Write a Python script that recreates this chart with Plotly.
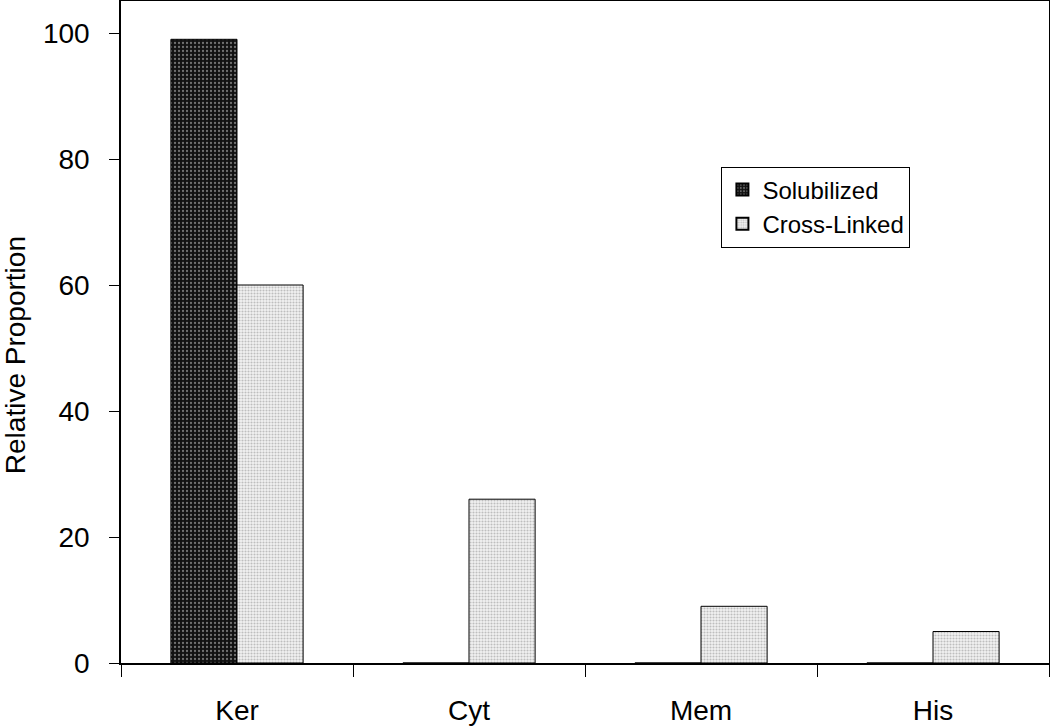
import plotly.graph_objects as go

categories = ["Ker", "Cyt", "Mem", "His"]
solubilized = [99, 0, 0, 0]
cross_linked = [60, 26, 9, 5]
y_ticks = [0, 20, 40, 60, 80, 100]

FONT = "Arial, Liberation Sans, sans-serif"

fig = go.Figure()
fig.add_trace(go.Bar(
    x=categories, y=solubilized, name="Solubilized",
    marker=dict(color="#111111", line=dict(color="black", width=1),
                pattern=dict(shape=".", fgcolor="#d0d0d0", bgcolor="#111111",
                             size=4, solidity=0.25)),
))
fig.add_trace(go.Bar(
    x=categories, y=cross_linked, name="Cross-Linked",
    marker=dict(color="#eeeeee", line=dict(color="black", width=1),
                pattern=dict(shape=".", fgcolor="#8a8a8a", bgcolor="#f2f2f2",
                             size=3, solidity=0.4)),
))

fig.update_layout(
    width=1050, height=728,
    margin=dict(l=121, r=1, t=1, b=65, autoexpand=False),
    paper_bgcolor="white", plot_bgcolor="white",
    font=dict(family=FONT, size=28, color="black"),
    barmode="group", bargap=0.43, bargroupgap=0,
    showlegend=True,
    legend=dict(x=0.647, y=0.75, xanchor="left", yanchor="top",
                bordercolor="black", borderwidth=1, bgcolor="white",
                font=dict(family=FONT, size=24), itemsizing="constant",
                itemwidth=30, tracegroupgap=0),
)
fig.update_xaxes(
    type="category", showline=True, linecolor="black", linewidth=1.5,
    mirror=True, ticks="outside", ticklen=12, tickcolor="black",
    tickson="boundaries", showgrid=False, tickfont=dict(size=28),
    ticklabelstandoff=22, automargin=False,
)
fig.update_yaxes(
    range=[0, 105.08], tickvals=y_ticks, showline=True, linecolor="black",
    linewidth=1.5, mirror=True, ticks="outside", ticklen=10, tickcolor="black",
    showgrid=False, zeroline=False, tickfont=dict(size=28),
    ticklabelstandoff=14, automargin=False,
)
fig.add_annotation(
    text="Relative Proportion", textangle=-90, showarrow=False,
    xref="paper", yref="paper", x=0, y=0.465, xshift=-106,
    xanchor="center", yanchor="middle", font=dict(size=28),
)

fig.write_html("out.html", config={"displayModeBar": False},
               post_script="document.body.style.margin='0';")
